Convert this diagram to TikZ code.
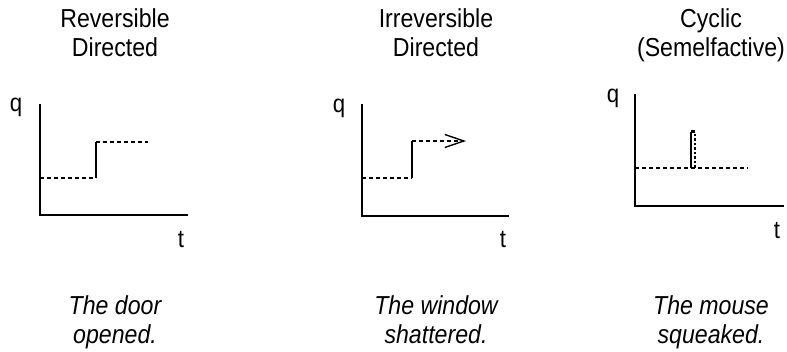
\documentclass[tikz,border=0pt]{standalone}
\usepackage{fontspec}
\setmainfont{Liberation Sans}[FakeStretch=0.89]
\usetikzlibrary{arrows.meta,positioning}

\begin{document}
\begin{tikzpicture}[
          x=1pt,y=-1pt,
          axis/.style={line width=1.8pt,line cap=rect},
          lvl/.style={line width=1.4pt,dash pattern=on 4pt off 3pt},
          jump/.style={line width=1.8pt},
          title/.style={align=center,anchor=base,inner sep=0pt,font=\fontsize{26}{29}\selectfont},
          saying/.style={align=center,anchor=base,inner sep=0pt,font=\fontsize{26}{29}\selectfont\itshape},
          lab/.style={anchor=base,inner sep=0pt,font=\fontsize{25}{25}\selectfont}
        ]
        \path[use as bounding box] (0,0) rectangle (787,352);

        % reversible directed
        \node[title] (head1) at (115,57) {Reversible\\Directed};
        \coordinate (top1) at (40,105);
        \coordinate (org1) at (40,215);
        \coordinate (end1) at (187,215);
        \draw[axis] (top1) -- (org1) -- (end1);
        \node[lab] (q1) at (16,112) {q};
        \node[lab] (t1) at (181,248) {t};
        \coordinate (lo1) at (40,178);
        \coordinate (a1) at (96,178);
        \coordinate (b1) at (96,142);
        \coordinate (hi1) at (148,142);
        \draw[lvl] (lo1) -- (a1);
        \draw[jump] (a1) -- (b1);
        \draw[lvl] (b1) -- (hi1);
        \node[saying] (say1) at (115,344) {The door\\opened.};

        % irreversible directed
        \node[title] (head2) at (436,57) {Irreversible\\Directed};
        \coordinate (top2) at (362,105);
        \coordinate (org2) at (362,216);
        \coordinate (end2) at (508,216);
        \draw[axis] (top2) -- (org2) -- (end2);
        \node[lab] (q2) at (339,113) {q};
        \node[lab] (t2) at (503,248) {t};
        \coordinate (lo2) at (362,178);
        \coordinate (a2) at (412,178);
        \coordinate (b2) at (412,141);
        \coordinate (hi2) at (466,141);
        \draw[lvl] (lo2) -- (a2);
        \draw[jump] (a2) -- (b2);
        \draw[lvl,-{Straight Barb[length=19pt,width=13pt,line width=1.4pt]}] (b2) -- (hi2);
        \node[saying] (say2) at (436,344) {The window\\shattered.};

        % cyclic
        \node[title] (head3) at (711,57) {Cyclic\\(Semelfactive)};
        \coordinate (top3) at (635,95);
        \coordinate (org3) at (635,206);
        \coordinate (end3) at (783,206);
        \draw[axis] (top3) -- (org3) -- (end3);
        \node[lab] (q3) at (613,103) {q};
        \node[lab] (t3) at (777,239) {t};
        \coordinate (lo3) at (635,168);
        \coordinate (hi3) at (748,168);
        \draw[lvl] (lo3) -- (hi3);
        \coordinate (s1) at (691,168);
        \coordinate (s2) at (691,132);
        \coordinate (d1) at (695,168);
        \coordinate (d2) at (695,132);
        \draw[jump,line width=1.3pt] (s1) -- (s2);
        \draw[lvl,line width=1.3pt,dash pattern=on 2.5pt off 2pt] (d1) -- (d2);
        \draw[line width=3pt] (s2) -- (d2);
        \node[saying] (say3) at (711,344) {The mouse\\squeaked.};

      \end{tikzpicture}
\end{document}
